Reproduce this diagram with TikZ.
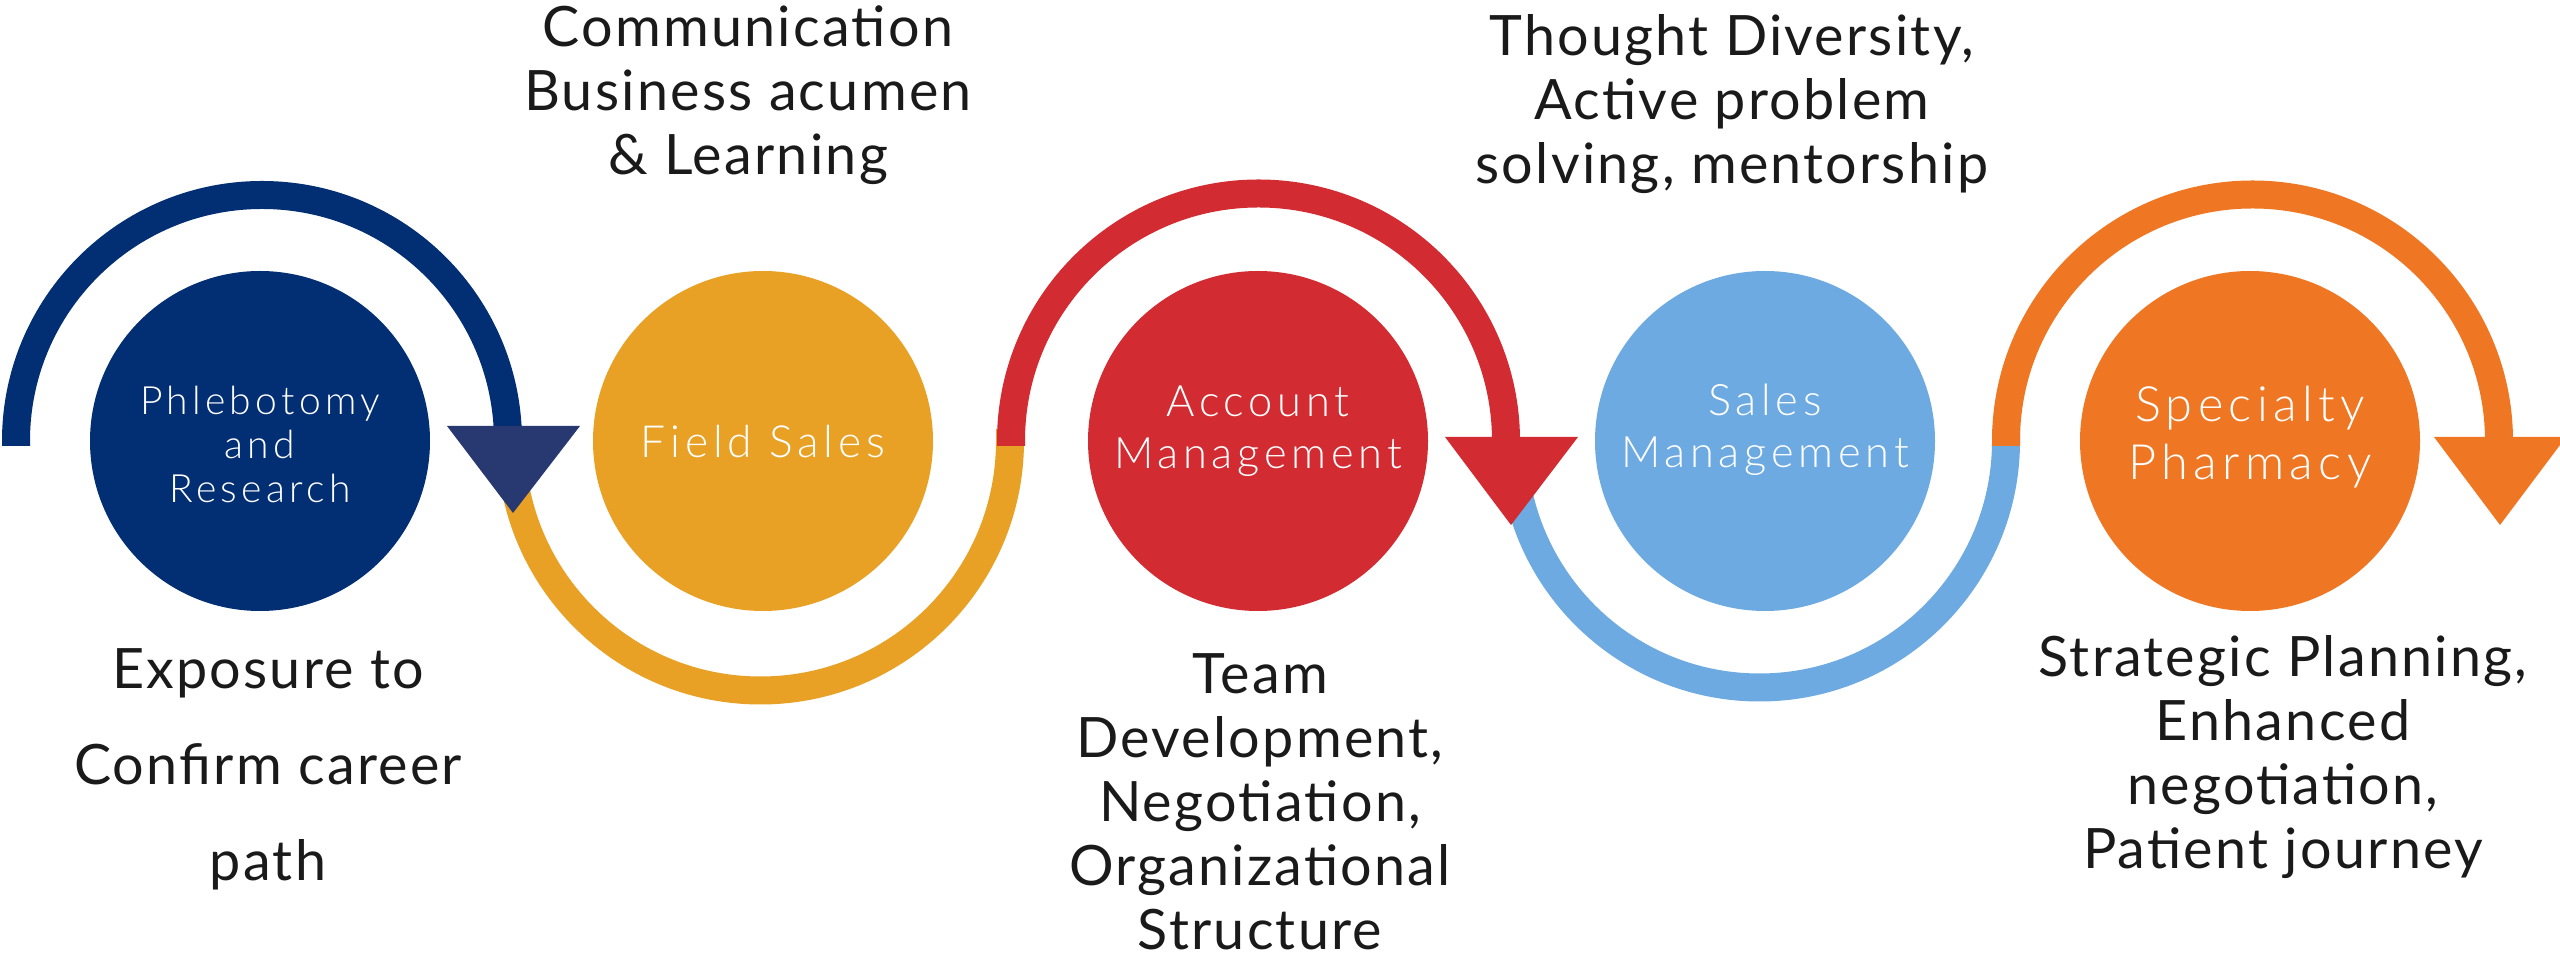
\documentclass[tikz,border=0pt]{standalone}
\usepackage{fontspec}
\setmainfont{Lato}[LetterSpace=4]
\newfontfamily\lightfont{Lato Light}[LetterSpace=11]
\usetikzlibrary{calc}
\definecolor{navy}{RGB}{2,46,115}
\definecolor{navytri}{RGB}{40,56,112}
\definecolor{gold}{RGB}{233,161,37}
\definecolor{crimson}{RGB}{210,43,50}
\definecolor{sky}{RGB}{109,170,226}
\definecolor{tangerine}{RGB}{239,119,36}
\definecolor{ink}{RGB}{26,26,26}
\begin{document}
\begin{tikzpicture}[x=0.3pt,y=-0.3pt,
  disc/.style={circle, minimum size=102pt, inner sep=0pt},
  disctext/.style={text=white, align=center, inner sep=0pt},
  band/.style={line width=8.4pt},
  lbl/.style={text=ink, align=center, inner sep=0pt, font=\fontsize{16.7}{19.2}\selectfont},
]
\useasboundingbox (0,0) rectangle (2560,954);
\fill[white] (0,0) rectangle (2560,954);

% circles
\node[disc, fill=navy]      (c1) at (260,441) {};
\node[disc, fill=gold]      (c2) at (763,441) {};
\node[disc, fill=crimson]   (c3) at (1258,441) {};
\node[disc, fill=sky]       (c4) at (1765,441) {};
\node[disc, fill=tangerine] (c5) at (2250,441) {};

% circle texts
\node[disctext, font=\lightfont\fontsize{11.7}{13.2}\selectfont] (t1) at (260,444) {Phlebotomy\\and\\Research};
\node[disctext, font=\lightfont\fontsize{13.3}{16}\selectfont] (t2) at (763,442) {Field Sales};
\node[disctext, font=\lightfont\fontsize{13}{15.7}\selectfont] (t3) at (1258,431) {Account\\Management};
\node[disctext, font=\lightfont\fontsize{13}{15.7}\selectfont] (t4) at (1765,430) {Sales\\Management};
\node[disctext, font=\lightfont\fontsize{14.6}{17.6}\selectfont] (t5) at (2250,437) {Specialty\\Pharmacy};

% bottom arcs (under the arrow heads)
\draw[band, gold] ($(c2)+(-252,0)$) arc[start angle=180, end angle=0, radius=249.5] -- ++(0,-12);
\draw[band, sky]  ($(c4)+(-252,0)$) arc[start angle=180, end angle=0, radius=246.5] -- ++(0,-12);

% top arcs with arrow heads
\draw[band, navy] ($(c1)+(-244,5)$) -- ++(0,-5) arc[start angle=180, end angle=360, radius=246] -- ++(0,-15);
\coordinate (h1) at ($(c1)+(253,-15)$);
\fill[navytri] ($(h1)+(-66,0)$) -- ($(h1)+(67,0)$) -- ($(h1)+(0,87)$) -- cycle;

\draw[band, crimson] ($(c3)+(-247,5)$) -- ++(0,-5) arc[start angle=180, end angle=360, radius=247.5] -- ++(0,-4);
\coordinate (h3) at ($(c3)+(253,-4)$);
\fill[crimson] ($(h3)+(-66,0)$) -- ($(h3)+(67,0)$) -- ($(h3)+(0,88)$) -- cycle;

\draw[band, tangerine] ($(c5)+(-244,5)$) -- ++(0,-5) arc[start angle=180, end angle=360, radius=246.5] -- ++(0,-4);
\coordinate (h5) at ($(c5)+(250,-4)$);
\fill[tangerine] ($(h5)+(-66,0)$) -- ($(h5)+(66,0)$) -- ($(h5)+(0,88)$) -- cycle;

% black labels
\node[lbl] (l1) at (748,95) {Communication\\Business acumen\\\& Learning};
\node[lbl] (l2) at (1732,104) {Thought Diversity,\\Active problem\\solving, mentorship};
\node[lbl, font=\fontsize{16.7}{28.8}\selectfont] (l3) at (268,769) {Exposure to\\Confirm career\\path};
\node[lbl] (l4) at (1260,802) {Team\\Development,\\Negotiation,\\Organizational\\Structure};
\node[lbl] (l5) at (2283,757) {Strategic Planning,\\Enhanced\\negotiation,\\Patient journey};
\end{tikzpicture}
\end{document}
